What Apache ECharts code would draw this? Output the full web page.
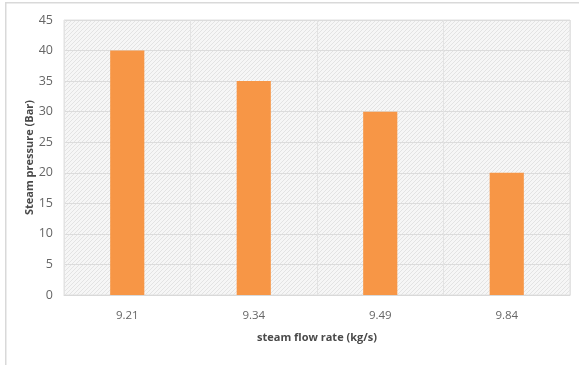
<!DOCTYPE html>
<html><head><meta charset="utf-8">
<script src="https://cdn.jsdelivr.net/npm/echarts@6/dist/echarts.min.js"></script>
<style>html,body{margin:0;padding:0;background:#fff}#c{width:579px;height:365px}</style>
</head><body><div id="c"></div>
<script>
const categories = ['9.21', '9.34', '9.49', '9.84'];
const pressure = [40, 35, 30, 20];
const yTicks = { min: 0, max: 45, interval: 5 };

function hatch() {
  const c = document.createElement('canvas');
  c.width = 4; c.height = 4;
  const g = c.getContext('2d');
  g.fillStyle = '#f6f6f6'; g.fillRect(0, 0, 4, 4);
  g.fillStyle = '#e3e3e3';
  for (let i = 0; i < 4; i++) g.fillRect(i, 3 - i, 1, 1);
  return c;
}

const chart = echarts.init(document.getElementById('c'));
chart.setOption({
  animation: false,
  graphic: [{
    type: 'rect', left: 5, top: 2, z: -10,
    shape: { x: 0, y: 0, width: 600, height: 400 },
    style: { fill: '#fff', stroke: '#d9d9d9', lineWidth: 1.5 }
  }],
  grid: {
    left: 64, right: 9, top: 20, bottom: 70, show: true,
    backgroundColor: { image: hatch(), repeat: 'repeat' },
    borderColor: '#e0e0e0', borderWidth: 1
  },
  xAxis: {
    type: 'category', data: categories,
    axisLine: { lineStyle: { color: '#d9d9d9' } },
    axisTick: { show: false },
    splitLine: { show: true, lineStyle: { color: '#e3e3e3' } },
    axisLabel: { color: '#666', fontFamily: 'Open Sans', fontSize: 11.5, margin: 15 },
    name: 'steam flow rate (kg/s)', nameLocation: 'middle', nameGap: 37, nameMoveOverlap: false,
    nameTextStyle: { color: '#4a4a4a', fontFamily: 'Open Sans', fontSize: 11, fontWeight: 'bold' }
  },
  yAxis: {
    type: 'value', min: yTicks.min, max: yTicks.max, interval: yTicks.interval,
    axisLine: { show: false }, axisTick: { show: false },
    splitLine: { lineStyle: { color: '#dcdcdc' } },
    axisLabel: { color: '#666', fontFamily: 'Open Sans', fontSize: 12.5, margin: 11 },
    name: 'Steam pressure (Bar)', nameLocation: 'middle', nameGap: 29, nameRotate: 90, nameMoveOverlap: false,
    nameTextStyle: { color: '#4a4a4a', fontFamily: 'Open Sans', fontSize: 11, fontWeight: 'bold' }
  },
  series: [{
    type: 'bar', data: pressure, barWidth: '27%',
    itemStyle: { color: '#F79646' }
  }]
});
</script></body></html>
